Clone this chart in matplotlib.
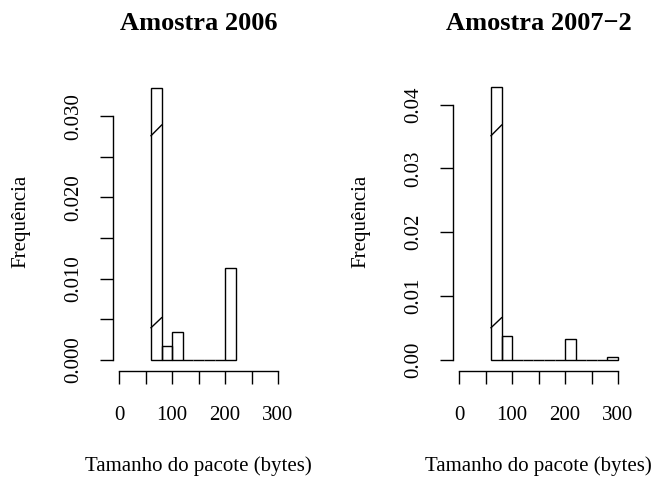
import matplotlib
matplotlib.use("Agg")
import matplotlib.pyplot as plt
import matplotlib.transforms as mtransforms
import numpy as np

plt.rcParams['font.family'] = ['Liberation Serif', 'DejaVu Serif']

# histogram data (density, bins of 20 bytes)
edges_2006 = [60, 80, 100, 120, 140, 160, 180, 200, 220]
dens_2006 = [0.0335, 0.0017, 0.00345, 0.0, 0.0, 0.0, 0.0, 0.0113]

edges_2007 = [60, 80, 100, 120, 140, 160, 180, 200, 220, 240, 260, 280, 300]
dens_2007 = [0.0427, 0.00376, 0.0, 0.0, 0.0, 0.0, 0.0, 0.0032, 0.0, 0.0, 0.0, 0.0004]

titles = ["Amostra 2006", "Amostra 2007\u22122"]
xticks = [0, 50, 100, 150, 200, 250, 300]
xticklabels = ["0", "", "100", "", "200", "", "300"]
yticks_2006 = [0.0, 0.005, 0.010, 0.015, 0.020, 0.025, 0.030]
ylabels_2006 = ["0.000", "", "0.010", "", "0.020", "", "0.030"]
yticks_2007 = [0.0, 0.01, 0.02, 0.03, 0.04]
ylabels_2007 = ["0.00", "0.01", "0.02", "0.03", "0.04"]

W, H = 665, 480
fig = plt.figure(figsize=(6.65, 4.8), dpi=100)

top_px, bot_px = 83.0, 359.7
panels = [
    (119.3, 278.0, edges_2006, dens_2006, yticks_2006, ylabels_2006, 276.7 / 8120),
    (459.3, 618.0, edges_2007, dens_2007, yticks_2007, ylabels_2007, 276.7 / 6375),
]

for i, (x0, x1, edges, dens, yt, yl, ytop) in enumerate(panels):
    ax = fig.add_axes([x0 / W, 1 - bot_px / H, (x1 - x0) / W, (bot_px - top_px) / H])
    ax.bar(edges[:-1], dens, width=np.diff(edges), align='edge', fill=False,
           edgecolor='black', linewidth=1.0, clip_on=False)
    ax.set_xlim(0, 300)
    ax.set_ylim(0, ytop)

    # axis break marks on the tall bar
    trans = mtransforms.blended_transform_factory(ax.transData, ax.transAxes)
    for ya, yb in [(0.8095, 0.848), (0.1156, 0.1518)]:
        ax.plot([edges[0], edges[1]], [ya, yb], color='black', lw=1.0,
                transform=trans, clip_on=False)

    for s in ['top', 'right']:
        ax.spines[s].set_visible(False)
    ax.spines['left'].set_position(('outward', 4.3))
    ax.spines['bottom'].set_position(('outward', 8))
    ax.spines['left'].set_bounds(yt[0], yt[-1])
    ax.spines['bottom'].set_bounds(0, 300)
    for s in ['left', 'bottom']:
        ax.spines[s].set_linewidth(1.0)

    ax.set_xticks(xticks)
    ax.set_xticklabels(xticklabels)
    ax.set_yticks(yt)
    ax.set_yticklabels(yl, rotation=90, va='center')
    ax.tick_params(axis='both', length=9.3, width=1.0, labelsize=15)
    ax.tick_params(axis='x', pad=16)
    ax.tick_params(axis='y', pad=12)

    xc = (x0 + x1) / 2 / W
    fig.text(xc, 1 - 23 / H, titles[i], ha='center', va='center',
             fontsize=19, fontweight='bold')
    fig.text(xc, 1 - 466 / H, "Tamanho do pacote (bytes)", ha='center',
             va='center', fontsize=15)
    fig.text((x0 - 98) / W, 1 - 221.7 / H, "Frequência", ha='center',
             va='center', rotation=90, fontsize=15)

fig.savefig("out.png", dpi=100)
